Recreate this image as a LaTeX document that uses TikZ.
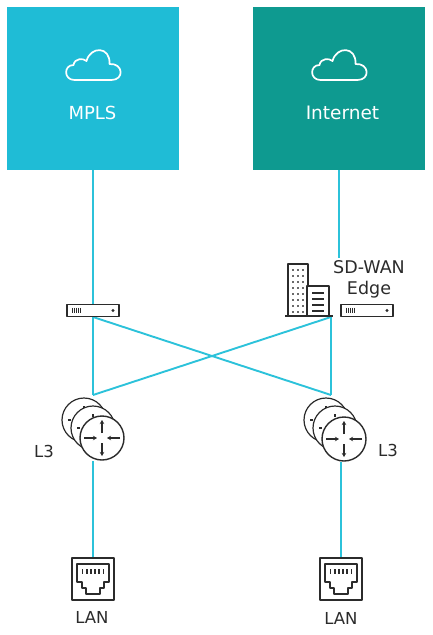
\documentclass[tikz,border=0pt]{standalone}
\usepackage{fontspec}
\setmainfont{DejaVu Sans}
\usetikzlibrary{arrows.meta}
\definecolor{cyanbox}{HTML}{1FBCD6}
\definecolor{tealbox}{HTML}{0E9A90}
\definecolor{wire}{HTML}{2CC2DA}
\definecolor{ink}{HTML}{2B2B2B}
\tikzset{
  x=1pt,y=-1pt,
  cloudbox/.style={minimum width=172pt,minimum height=163pt,inner sep=0pt,draw=none},
  boxlabel/.style={text=white,inner sep=0pt},
  lbl/.style={text=ink,font=\fontsize{16.5}{19}\selectfont,inner sep=0pt},
  wireline/.style={draw=wire,line width=1.9pt},
  iconline/.style={draw=ink,line width=1.2pt,line join=round},
  pics/cloudicon/.style={code={
    \draw[white,line width=1.7pt,line join=round]
      (-19,12) .. controls (-30,12) and (-30,-3) .. (-20,-3)
      .. controls (-19,-10) and (-10,-10) .. (-7,-7)
      .. controls (-3,-22) and (17,-22) .. (16,-4)
      .. controls (30,-5) and (31,12) .. (18,12) -- cycle;
  }},
  pics/srv/.style={code={
    \draw[iconline,line width=1.9pt,fill=white] (-26,-6) rectangle (26,6);
    \foreach \i in {-20.5,-18.5,-16.5,-14.5,-12.5} \draw[ink,line width=1.3pt] (\i,-2.7) -- (\i,2.7);
    \fill[ink] (20,0) circle (1.7);
  }},
  pics/routerback/.style={code={
    \draw[iconline,fill=white] (0,0) circle (22);
    \draw[ink,line width=1.1pt] (0,-14) -- (0,-11);
    \draw[ink,line width=1.1pt] (-16,0) -- (-13,0);
  }},
  pics/routerfront/.style={code={
    \draw[iconline,line width=1.4pt,fill=white] (0,0) circle (22);
    \foreach \a in {0,180}{
      \draw[ink,line width=1.1pt,-{Stealth[length=4pt,width=4.5pt]},rotate=\a] (18,0) -- (5,0);
    }
    \foreach \a in {90,270}{
      \draw[ink,line width=1.1pt,-{Stealth[length=4pt,width=4.5pt]},rotate=\a] (5,0) -- (18,0);
    }
  }},
  pics/lanicon/.style={code={
    \draw[iconline,line width=1.7pt] (-21,-21) rectangle (21,21);
    \draw[iconline,line width=1.6pt] (-16,-15) -- (16,-15) -- (16,3) -- (11,3) -- (11,9) -- (7,9) -- (7,15) -- (-7,15) -- (-7,9) -- (-11,9) -- (-11,3) -- (-16,3) -- cycle;
    \foreach \i in {-10.5,-6.3,-2.1,2.1,6.3,10.5} \draw[ink,line width=1.7pt] (\i,-10) -- (\i,-5);
  }},
  pics/buildingicon/.style={code={
    \draw[iconline,line width=1.5pt] (-42,0) -- (-42,-52) -- (-22,-52) -- (-22,-29);
    \draw[iconline,line width=1.5pt,fill=white] (-23,0) -- (-23,-30) -- (-1,-30) -- (-1,0);
    \draw[ink,line width=2pt] (-45,0) -- (3,0);
    \foreach \yy in {-46,-40,-34,-28,-22,-16,-10,-4}{
      \foreach \xx in {-37,-32,-27}{\fill[ink!70] (\xx-1,\yy-1) rectangle (\xx+1,\yy+1);}
    }
    \foreach \yy in {-23,-17,-11,-5} \draw[ink,line width=1.3pt] (-18,\yy) -- (-6,\yy);
  }}
}
\begin{document}
\begin{tikzpicture}
\useasboundingbox (0,0) rectangle (432,635);
\node[cloudbox,fill=cyanbox] (mpls) at (93,88.5) {};
\node[cloudbox,fill=tealbox] (inet) at (339,88.5) {};
\path (93.5,68) pic {cloudicon};
\path (339.5,68) pic {cloudicon};
\node[boxlabel,font=\fontsize{18}{21}\selectfont] (mplsl) at (92.5,113) {MPLS};
\node[boxlabel,font=\fontsize{18.5}{21}\selectfont] (inetl) at (342.5,113) {Internet};

\coordinate (lsw) at (93,317);
\coordinate (rsw) at (331,317);
\coordinate (lr) at (93,395);
\coordinate (rr) at (331,395);
\coordinate (llan) at (93,558);
\coordinate (rlan) at (341,559);
\coordinate (lrb) at (93,461);
\coordinate (rrb) at (341,462);
\coordinate (inetend) at (339,258);

\draw[wireline] (mpls.south -| lsw) -- (lsw);
\draw[wireline] (inet.south) -- (inetend);
\draw[wireline] (lsw) -- (lr);
\draw[wireline] (rsw) -- (rr);
\draw[wireline] (lsw) -- (rr);
\draw[wireline] (rsw) -- (lr);
\draw[wireline] (lrb) -- (llan);
\draw[wireline] (rrb) -- (rlan);

\path (93,310.5) pic {srv};
\path (367,310.5) pic {srv};
\path (330,316) pic {buildingicon};

\path (84,420) pic {routerback};
\path (93,428) pic {routerback};
\path (102,438) pic {routerfront};
\path (326,420) pic {routerback};
\path (335,428) pic {routerback};
\path (344,439) pic {routerfront};

\path (93,579) pic {lanicon};
\path (341,579) pic {lanicon};

\node[lbl] (l3a) at (44,451) {L3};
\node[lbl] (l3b) at (388,450) {L3};
\node[lbl] (lana) at (92,617) {LAN};
\node[lbl] (lanb) at (341,618) {LAN};
\node[lbl,font=\fontsize{17.5}{21}\selectfont,align=center] (sdwan) at (369,279) {SD-WAN\\Edge};
\end{tikzpicture}
\end{document}
